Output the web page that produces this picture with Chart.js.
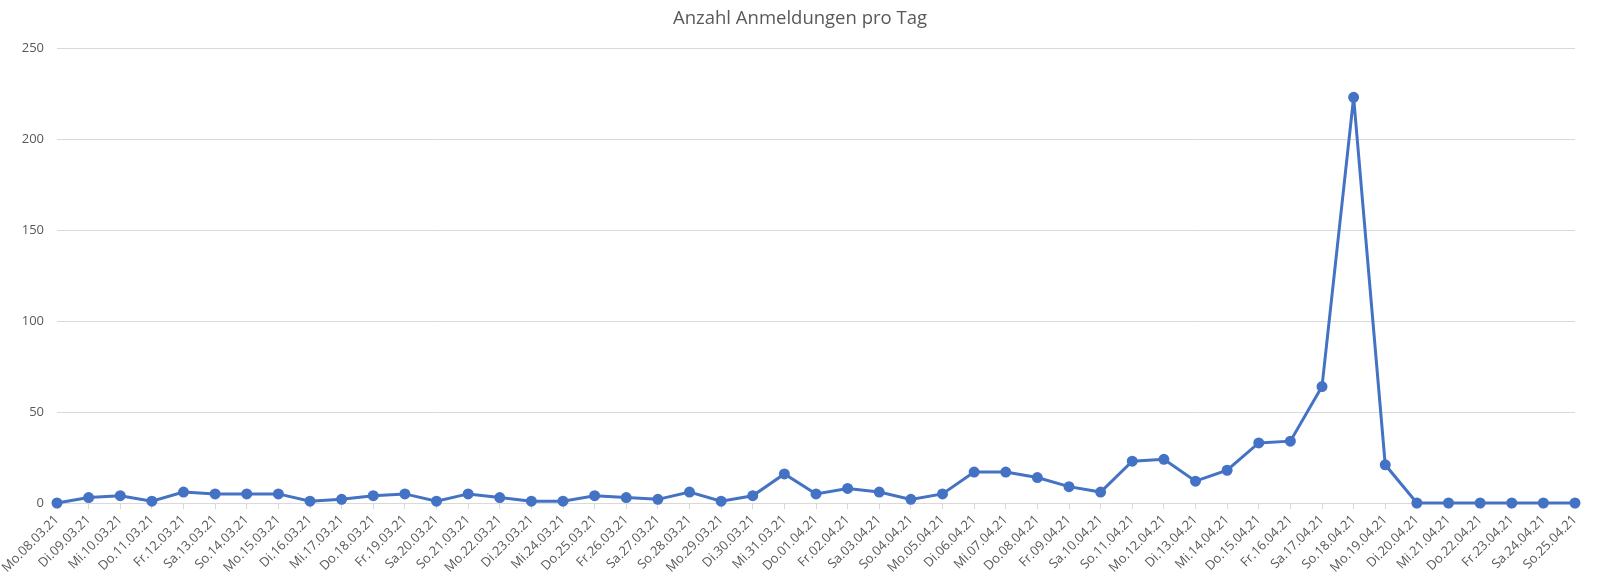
<!DOCTYPE html>
<html>
<head>
<meta charset="utf-8">
<script src="https://cdn.jsdelivr.net/npm/chart.js@4"></script>
<style>
  html, body { margin: 0; padding: 0; background: #fff; }
  #wrap { width: 1600px; height: 581px; position: relative; }
</style>
</head>
<body>
<div id="wrap"><canvas id="signupChart"></canvas></div>
<script>
// Daten: Anmeldungen pro Tag
const days = [
  'Mo.08.03.21', 'Di.09.03.21', 'Mi.10.03.21', 'Do.11.03.21', 'Fr.12.03.21', 'Sa.13.03.21', 'So.14.03.21',
  'Mo.15.03.21', 'Di.16.03.21', 'Mi.17.03.21', 'Do.18.03.21', 'Fr.19.03.21', 'Sa.20.03.21', 'So.21.03.21',
  'Mo.22.03.21', 'Di.23.03.21', 'Mi.24.03.21', 'Do.25.03.21', 'Fr.26.03.21', 'Sa.27.03.21', 'So.28.03.21',
  'Mo.29.03.21', 'Di.30.03.21', 'Mi.31.03.21', 'Do.01.04.21', 'Fr.02.04.21', 'Sa.03.04.21', 'So.04.04.21',
  'Mo.05.04.21', 'Di.06.04.21', 'Mi.07.04.21', 'Do.08.04.21', 'Fr.09.04.21', 'Sa.10.04.21', 'So.11.04.21',
  'Mo.12.04.21', 'Di.13.04.21', 'Mi.14.04.21', 'Do.15.04.21', 'Fr.16.04.21', 'Sa.17.04.21', 'So.18.04.21',
  'Mo.19.04.21', 'Di.20.04.21', 'Mi.21.04.21', 'Do.22.04.21', 'Fr.23.04.21', 'Sa.24.04.21', 'So.25.04.21'
];
const signups = [
  0, 3, 4, 1, 6, 5, 5,
  5, 1, 2, 4, 5, 1, 5,
  3, 1, 1, 4, 3, 2, 6,
  1, 4, 16, 5, 8, 6, 2,
  5, 17, 17, 14, 9, 6, 23,
  24, 12, 18, 33, 34, 64, 223,
  21, 0, 0, 0, 0, 0, 0
];
const yTicks = [0, 50, 100, 150, 200, 250];

const gray = '#595959';
const gridGray = '#d9d9d9';
const fontFamily = '"Open Sans", "Noto Sans", sans-serif';

const ctx = document.getElementById('signupChart').getContext('2d');
new Chart(ctx, {
    type: 'line',
    data: {
        labels: days,
        datasets: [{
            label: 'Anmeldungen',
            data: signups,
            borderColor: '#4472C4',
            backgroundColor: '#4472C4',
            borderWidth: 3,
            pointRadius: 4,
            pointHoverRadius: 4,
            tension: 0,
            clip: false
        }]
    },
    options: {
        responsive: true,
        maintainAspectRatio: false,
        animation: false,
        layout: { padding: 0 },
        plugins: {
            legend: { display: false },
            tooltip: { enabled: false },
            title: {
                display: true,
                text: 'Anzahl Anmeldungen pro Tag',
                color: gray,
                font: { family: fontFamily, size: 18.5, weight: 'normal' },
                padding: { top: 8, bottom: 18 }
            }
        },
        scales: {
            x: {
                offset: false,
                grid: {
                    display: true,
                    drawOnChartArea: false,
                    drawTicks: true,
                    tickLength: 6,
                    color: gridGray
                },
                border: { display: true, color: gridGray, width: 1 },
                ticks: {
                    color: gray,
                    font: { family: fontFamily, size: 13 },
                    maxRotation: 45,
                    minRotation: 45,
                    autoSkip: false,
                    padding: 3
                },
                afterFit: (scale) => {
                    scale.height = 78;
                    scale.paddingRight = 25;
                }
            },
            y: {
                min: yTicks[0],
                max: yTicks[yTicks.length - 1],
                afterBuildTicks: (scale) => { scale.ticks = yTicks.map(v => ({ value: v })); },
                grid: { color: gridGray, drawTicks: false, lineWidth: 1 },
                border: { display: false },
                ticks: {
                    color: gray,
                    font: { family: fontFamily, size: 13 },
                    padding: 13
                },
                afterFit: (scale) => { scale.width = 57; }
            }
        }
    }
});
</script>
</body>
</html>
